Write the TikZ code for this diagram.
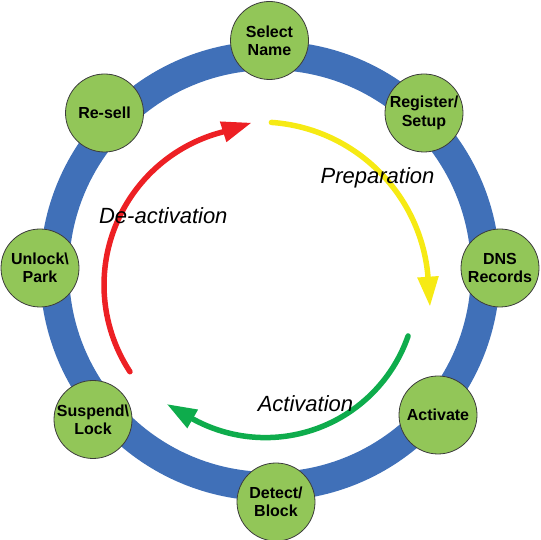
\documentclass[tikz,border=0pt]{standalone}
\usepackage{fontspec}
\setmainfont{Liberation Sans}
\usetikzlibrary{arrows.meta}
\definecolor{ringblue}{RGB}{64,112,184}
\definecolor{nodegreen}{RGB}{146,198,88}
\definecolor{nodeedge}{RGB}{60,60,60}
\definecolor{arrowyellow}{RGB}{246,234,20}
\definecolor{arrowred}{RGB}{237,32,36}
\definecolor{arrowgreen}{RGB}{14,172,76}
\begin{document}
\begin{tikzpicture}[x=1pt,y=1pt,
  stage/.style={circle, draw=nodeedge, line width=0.8pt, fill=nodegreen,
    minimum size=78pt, inner sep=0pt, align=center,
    font=\fontsize{16}{18.3}\selectfont\bfseries},
  phase/.style={font=\fontsize{22}{26}\selectfont\itshape, anchor=base, inner sep=0pt},
  cyc/.style={line width=5.5pt, line cap=round, -{Triangle[length=30pt,width=20pt]}}]
\useasboundingbox (0,0) rectangle (540,540);
% ring
\draw[ringblue, line width=29pt] (270,269) circle[radius=215.5];
% arrow tips
\coordinate (ytip) at (430,233.3);
\coordinate (rtip) at (251.7,417.3);
\coordinate (gtip) at (166.7,136);
% cycle arrows
\draw[arrowyellow, cyc] ([shift={(86:169)}]259.6,249) arc[start angle=86, end angle=5.1, radius=169] -- (ytip);
\draw[arrowred, cyc] ([shift={(213.3:158)}]262,255) arc[start angle=213.3, end angle=104.5, radius=158] -- (rtip);
\draw[arrowgreen, cyc] ([shift={(-19.1:151)}]265.4,253.4) arc[start angle=-19.1, end angle=-118.9, radius=151] -- (gtip);
% phase labels
\node[phase] (prep) at (377.5,356.7) {Preparation};
\node[phase] (deact) at (163.3,316.7) {De-activation};
\node[phase] (act) at (305.5,128.3) {Activation};
% stages
\node[stage] (select) at (269.5,499.5) {Select\\Name};
\node[stage] (register) at (424,427) {Register/\\Setup};
\node[stage] (dns) at (500,272) {DNS\\Records};
\node[stage] (activate) at (438,125) {Activate};
\node[stage] (detect) at (276,38) {Detect/\\Block};
\node[stage] (suspend) at (93,120.5) {Suspend\textbackslash\\Lock};
\node[stage] (unlock) at (40,272) {Unlock\textbackslash\\Park};
\node[stage] (resell) at (104.5,427) {Re-sell};
\end{tikzpicture}
\end{document}
